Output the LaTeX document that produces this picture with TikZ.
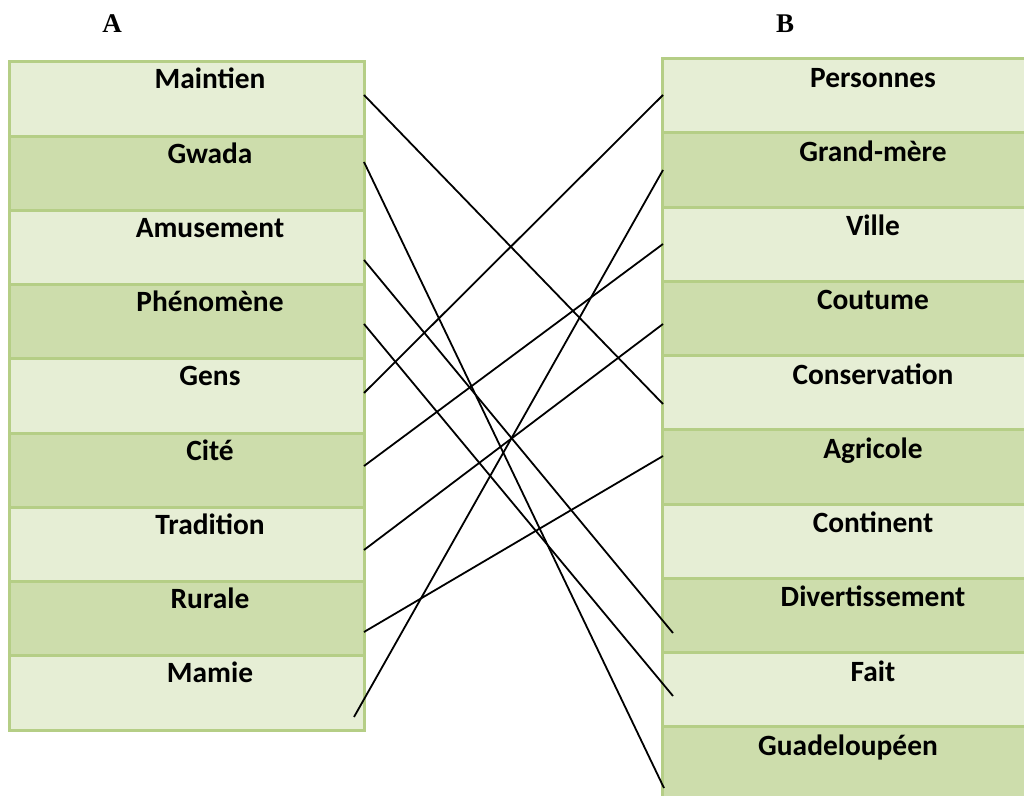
\documentclass[tikz,border=0pt]{standalone}
\usepackage{fontspec}
\setmainfont{Carlito}
\newfontfamily\headfont{Liberation Serif}
\definecolor{cellpale}{HTML}{E6EED5}
\definecolor{celldark}{HTML}{CDDDAC}
\definecolor{cellrule}{HTML}{B5CE86}
\tikzset{
  cell/.style={draw=cellrule,line width=1.5pt,minimum height=37.125pt,inner sep=0pt},
  word/.style={font=\fontsize{14.7}{17}\selectfont\bfseries,anchor=base,inner sep=0pt},
  colhead/.style={font=\fontsize{13.5}{16}\headfont\bfseries,anchor=base,inner sep=0pt},
  link/.style={line width=0.9pt}
}
\begin{document}
\begin{tikzpicture}[x=0.5pt,y=-0.5pt]
\useasboundingbox (0,0) rectangle (1024,796);
\node[colhead] (hA) at (112,33) {A};
\node[colhead] (hB) at (785,33) {B};
% column A
\foreach \w/\shade [count=\i] in {Maintien/cellpale,Gwada/celldark,Amusement/cellpale,
  Phénomène/celldark,Gens/cellpale,Cité/celldark,Tradition/cellpale,Rurale/celldark,Mamie/cellpale}{
  \pgfmathsetmacro\top{62+74.25*(\i-1)}
  \node[cell,fill=\shade,minimum width=177.5pt] (A\i) at (187,\top+37.125) {};
  \node[word] (tA\i) at (210,\top+27) {\w};
}
% column B
\foreach \w/\shade/\tx [count=\i] in {Personnes/cellpale/873,Grand-mère/celldark/873,Ville/cellpale/873,
  Coutume/celldark/873,Conservation/cellpale/873,Agricole/celldark/873,Continent/cellpale/873,
  Divertissement/celldark/873,Fait/cellpale/873,Guadeloupéen/celldark/848}{
  \pgfmathsetmacro\top{58.7+74.25*(\i-1)}
  \node[cell,fill=\shade,minimum width=200pt] (B\i) at (862.5,\top+37.125) {};
  \node[word] (tB\i) at (\tx,\top+28.5) {\w};
}
% line ends
\foreach \x/\y [count=\i] in {364/95,364/162,364/260,364/324,364/393,364/466,364/550,364/632,354/717}
  \coordinate (a\i) at (\x,\y);
\foreach \x/\y [count=\i] in {663/95,663/170,663/244,663/324,663/404,663/456,663/530,673/633,673/696,664/788}
  \coordinate (b\i) at (\x,\y);
% matches
\draw[link] (a1) -- (b5);
\draw[link] (a2) -- (b10);
\draw[link] (a3) -- (b8);
\draw[link] (a4) -- (b9);
\draw[link] (a5) -- (b1);
\draw[link] (a6) -- (b3);
\draw[link] (a7) -- (b4);
\draw[link] (a8) -- (b6);
\draw[link] (a9) -- (b2);
\end{tikzpicture}
\end{document}
